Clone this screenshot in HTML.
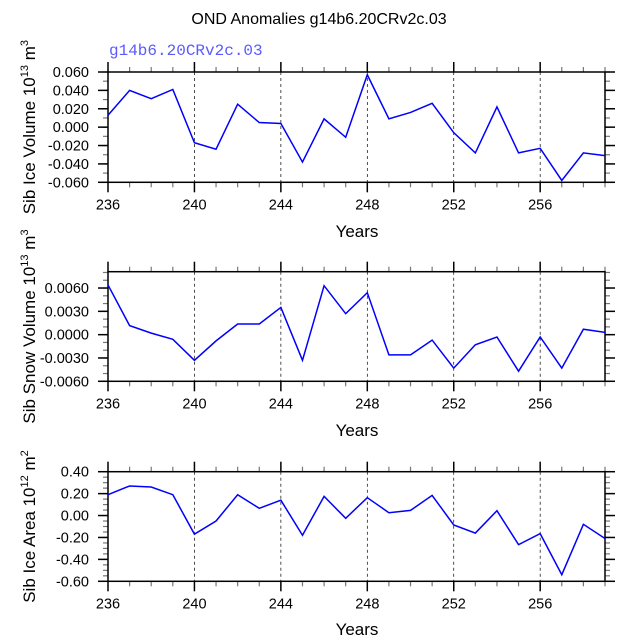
<!DOCTYPE html>
<html><head><meta charset="utf-8"><style>
body{margin:0;background:#fff}
svg text{font-family:"Liberation Sans",sans-serif;fill:#000}
</style></head><body>
<svg id="chart" width="638" height="638" xmlns="http://www.w3.org/2000/svg">
<text x="319" y="24" text-anchor="middle" font-size="16">OND Anomalies g14b6.20CRv2c.03</text>
<text x="109" y="55" font-size="16" style="font-family:'Liberation Mono',monospace;fill:#5a5aff">g14b6.20CRv2c.03</text>
</svg>
<script>
const years = [236,237,238,239,240,241,242,243,244,245,246,247,248,249,250,251,252,253,254,255,256,257,258,259];
const iceVolume = [0.013,0.040,0.031,0.041,-0.017,-0.024,0.025,0.005,0.004,-0.038,0.009,-0.011,0.057,0.009,0.016,0.026,-0.006,-0.028,0.022,-0.028,-0.023,-0.058,-0.028,-0.031];
const snowVolume = [0.0064,0.00116,0.0002,-0.0006,-0.0033,-0.0008,0.00137,0.00137,0.0035,-0.0033,0.0063,0.0027,0.0054,-0.0026,-0.0026,-0.0007,-0.0043,-0.0013,-0.0003,-0.0047,-0.0003,-0.0043,0.0007,0.0003];
const iceArea = [0.19,0.27,0.26,0.19,-0.17,-0.05,0.19,0.066,0.14,-0.18,0.175,-0.025,0.163,0.026,0.047,0.184,-0.086,-0.16,0.044,-0.266,-0.165,-0.54,-0.08,-0.21];
const xTickLabels = ["236","240","244","248","252","256"];
const iceVolTicks = ["0.060","0.040","0.020","0.000","-0.020","-0.040","-0.060"];
const snowTicks = ["0.0060","0.0030","0.0000","-0.0030","-0.0060"];
const areaTicks = ["0.40","0.20","0.00","-0.20","-0.40","-0.60"];

const svg = document.getElementById('chart');
const NS = 'http://www.w3.org/2000/svg';
function mk(tag, attrs, parent){const e=document.createElementNS(NS,tag);for(const k in attrs)e.setAttribute(k,attrs[k]);(parent||svg).appendChild(e);return e;}

const X0=108, X1=605, xmin=236, xmax=259;
const xs = v => X0 + (v-xmin)/(xmax-xmin)*(X1-X0);

function panel(name, top, bot, ymin, ymax, ticks, minorStep, vals, labelMain, sup, unitSup, yearsY){
  const g = mk('g',{});
  
  
  const ys = v => bot - (v-ymin)/(ymax-ymin)*(bot-top);
  xTickLabels.forEach((t,i)=>{ const v=+t; if(v===xmin) return;
    const l=mk('line',{x1:xs(v),x2:xs(v),y1:top,y2:bot,stroke:'#000','stroke-width':0.7,'stroke-dasharray':'3,3'},g);
     });
  for(let v=xmin; v<=xmax; v++){
    const major = (v-xmin)%4===0;
    const len = major?10:5;
    mk('line',{x1:xs(v),x2:xs(v),y1:bot,y2:bot+len,stroke:major?'#000':'#777','stroke-width':major?1.5:1.2},g);
    mk('line',{x1:xs(v),x2:xs(v),y1:top,y2:top-len,stroke:major?'#000':'#777','stroke-width':major?1.5:1.2},g);
  }
  const nMinor = Math.round((ymax-ymin)/minorStep);
  for(let i=0;i<=nMinor+1;i++){
    const v = ymin + i*minorStep; if(v>ymax+1e-9) break;
    mk('line',{x1:X0-5,x2:X0,y1:ys(v),y2:ys(v),stroke:'#777','stroke-width':1.2},g);
    mk('line',{x1:X1,x2:X1+5,y1:ys(v),y2:ys(v),stroke:'#777','stroke-width':1.2},g);
  }
  ticks.forEach(t=>{ const v=+t;
    mk('line',{x1:X0-10,x2:X0,y1:ys(v),y2:ys(v),stroke:'#000','stroke-width':1.5},g);
    mk('line',{x1:X1,x2:X1+10,y1:ys(v),y2:ys(v),stroke:'#000','stroke-width':1.5},g);
    const tx=mk('text',{x:89,y:ys(v)+5,'text-anchor':'end','font-size':14.5},g); tx.textContent=t;
     
  });
  xTickLabels.forEach(t=>{ const tx=mk('text',{x:xs(+t),y:bot+27,'text-anchor':'middle','font-size':14.5},g); tx.textContent=t;
     });
  const fr=mk('rect',{x:X0,y:top,width:X1-X0,height:bot-top,fill:'none',stroke:'#000','stroke-width':1.5},g);
   
  const pts = vals.map((v,i)=>xs(years[i])+','+ys(v)).join(' ');
  const pl=mk('polyline',{points:pts,fill:'none',stroke:'#0000ff','stroke-width':1.5},g);
   
  const xt=mk('text',{x:357,y:yearsY,'text-anchor':'middle','font-size':17},g); xt.textContent='Years';
   
  const cy=(top+bot)/2;
  const yt=mk('text',{x:0,y:0,'text-anchor':'middle','font-size':17,transform:`translate(35,${cy}) rotate(-90)`},g);
   
  const a=mk('tspan',{},yt); a.textContent=labelMain+' 10';
  const b=mk('tspan',{dy:-7,'font-size':11},yt); b.textContent=sup;
  const c=mk('tspan',{dy:7},yt); c.textContent=' m';
  const d=mk('tspan',{dy:-7,'font-size':11},yt); d.textContent=unitSup;
}
panel('ice-volume',72,182.3,-0.06,0.06,iceVolTicks,0.01,iceVolume,'Sib Ice Volume','13','3',237);
panel('snow-volume',271.7,381.3,-0.006,0.0081,snowTicks,0.001,snowVolume,'Sib Snow Volume','13','3',436);
panel('ice-area',471.7,581.3,-0.6,0.4,areaTicks,0.05,iceArea,'Sib Ice Area','12','2',635);
</script>
</body></html>
